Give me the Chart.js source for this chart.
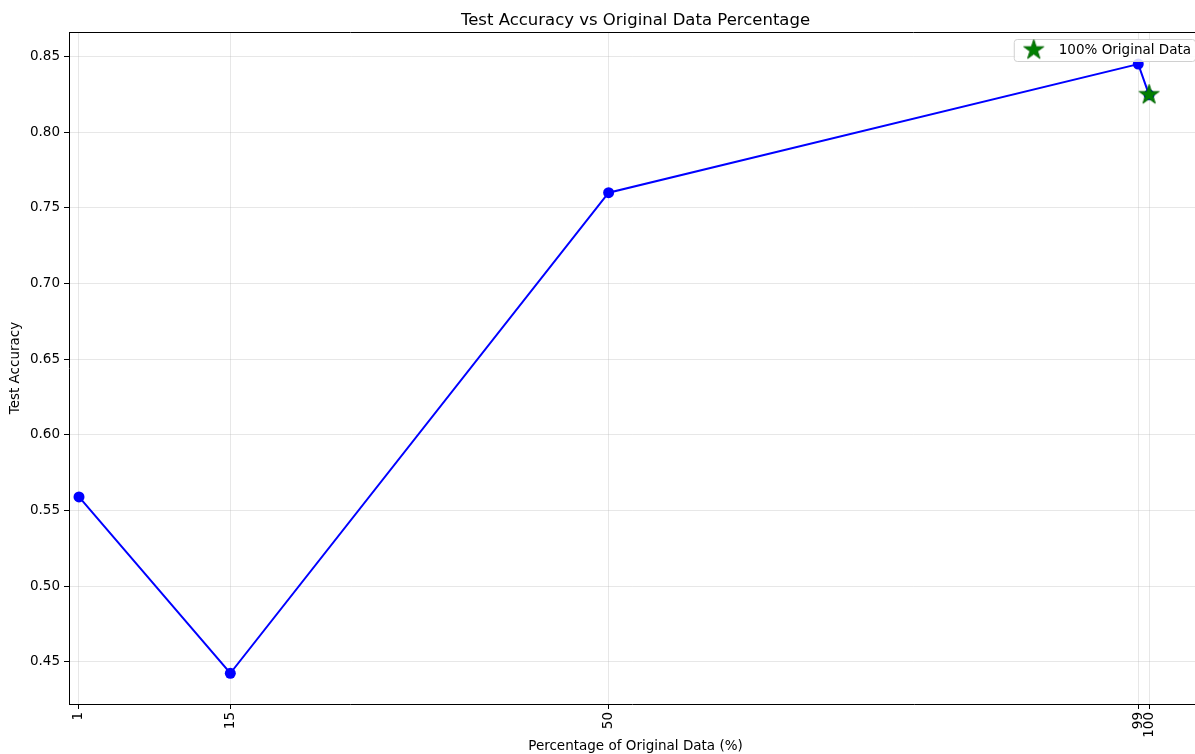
<!DOCTYPE html>
<html>
<head>
<meta charset="utf-8">
<script src="https://cdn.jsdelivr.net/npm/chart.js@4.4.1/dist/chart.umd.min.js"></script>
<style>
  html, body { margin: 0; padding: 0; background: #fff; overflow: hidden; }
  #c { display: block; }
</style>
</head>
<body>
<canvas id="c" width="1195" height="754" style="width:1195px;height:754px"></canvas>
<script>
// Percentage of original data used in training, and the resulting test accuracy
const percentages = [1, 15, 50, 99, 100];
const testAccuracy = [0.559, 0.4425, 0.760, 0.845, 0.8247];

// Highlighted reference run trained on the full original data
const fullDataPercent = [100];
const fullDataAccuracy = [0.8247];

const xTickValues = [1, 15, 50, 99, 100];
const yTickValues = [0.45, 0.50, 0.55, 0.60, 0.65, 0.70, 0.75, 0.80, 0.85];

const titleText = 'Test Accuracy vs Original Data Percentage';
const xAxisTitle = 'Percentage of Original Data (%)';
const yAxisTitle = 'Test Accuracy';
const legendLabel = '100% Original Data';

const FONT = '"DejaVu Sans", sans-serif';

// Filled five-pointed star used as the marker for the full-data run
function makeStar(outer, fill, stroke) {
  const size = Math.ceil(outer * 2 + 4);
  const cv = document.createElement('canvas');
  cv.width = size; cv.height = size;
  const g = cv.getContext('2d');
  const c = size / 2, inner = outer * 0.381966;
  g.beginPath();
  for (let i = 0; i < 10; i++) {
    const r = i % 2 === 0 ? outer : inner;
    const a = -Math.PI / 2 + i * Math.PI / 5;
    const px = c + r * Math.cos(a), py = c + r * Math.sin(a);
    if (i === 0) g.moveTo(px, py); else g.lineTo(px, py);
  }
  g.closePath();
  g.fillStyle = fill; g.fill();
  g.lineWidth = 1; g.strokeStyle = stroke; g.stroke();
  return cv;
}
const starMarker = makeStar(10.5, '#008000', '#006400');

// Top frame line, titles and an in-plot legend
const decorations = {
  id: 'decorations',
  afterDraw(chart) {
    const { ctx, chartArea: a } = chart;
    ctx.save();
    ctx.strokeStyle = '#000';
    ctx.lineWidth = 1;
    ctx.beginPath();
    ctx.moveTo(a.left, Math.round(a.top) + 0.5);
    ctx.lineTo(a.right, Math.round(a.top) + 0.5);
    ctx.stroke();

    // the axes extend a few pixels past the canvas; centre text on the full plot
    const plotRight = a.right + 7;
    ctx.fillStyle = '#000';
    ctx.textAlign = 'center';
    ctx.textBaseline = 'middle';
    ctx.font = '16.5px ' + FONT;
    ctx.fillText(titleText, (a.left + plotRight) / 2, 21);

    ctx.font = '13.5px ' + FONT;
    ctx.fillText(xAxisTitle, (a.left + plotRight) / 2, 746);

    ctx.save();
    ctx.translate(15, (a.top + a.bottom) / 2);
    ctx.rotate(-Math.PI / 2);
    ctx.fillText(yAxisTitle, 0, 0);
    ctx.restore();

    // legend box in the upper right of the plot
    ctx.font = '13.5px ' + FONT;
    const tw = ctx.measureText(legendLabel).width;
    const boxW = 45 + tw + 4;
    const boxH = 22;
    const bx = plotRight - 7 - boxW;
    const by = a.top + 7;
    ctx.beginPath();
    ctx.roundRect(bx + 0.5, by + 0.5, boxW, boxH, 3);
    ctx.fillStyle = 'rgba(255,255,255,0.85)';
    ctx.fill();
    ctx.strokeStyle = '#d0d0d0';
    ctx.stroke();
    ctx.drawImage(starMarker, bx + 20 - starMarker.width / 2, by + boxH / 2 - starMarker.height / 2);
    ctx.fillStyle = '#000';
    ctx.textAlign = 'left';
    ctx.fillText(legendLabel, bx + 45, by + boxH / 2 + 0.5);
    ctx.restore();
  }
};

new Chart(document.getElementById('c'), {
  type: 'line',
  data: {
    datasets: [
      {
        label: 'Test Accuracy',
        data: percentages.map((p, i) => ({ x: p, y: testAccuracy[i] })),
        borderColor: '#0000ff',
        backgroundColor: '#0000ff',
        borderWidth: 2,
        pointRadius: 5.5,
        pointHoverRadius: 5.5,
        pointBorderWidth: 0,
        tension: 0,
        fill: false,
        order: 2
      },
      {
        label: legendLabel,
        data: fullDataPercent.map((p, i) => ({ x: p, y: fullDataAccuracy[i] })),
        showLine: false,
        pointStyle: starMarker,
        pointRadius: 10,
        order: 1
      }
    ]
  },
  options: {
    responsive: false,
    animation: false,
    events: [],
    layout: { autoPadding: false, padding: { top: 32, right: 0, left: 0, bottom: 0 } },
    plugins: {
      legend: { display: false },
      title: { display: false },
      tooltip: { enabled: false }
    },
    scales: {
      x: {
        type: 'linear',
        min: 0.075,
        max: 104.25,
        afterFit(scale) {
          scale.height = 50;
          scale.paddingLeft = 0;
          scale.paddingRight = 0;
        },
        afterBuildTicks(scale) { scale.ticks = xTickValues.map(v => ({ value: v })); },
        border: { display: true, color: '#000', width: 1 },
        grid: {
          color: 'rgba(176,176,176,0.3)',
          tickColor: '#000',
          tickLength: 5,
          lineWidth: 1
        },
        ticks: {
          autoSkip: false,
          minRotation: 90,
          maxRotation: 90,
          padding: 3,
          color: '#000',
          font: { family: FONT, size: 13.5 },
          callback: v => String(v)
        }
      },
      y: {
        type: 'linear',
        min: 0.4222,
        max: 0.8662,
        afterFit(scale) {
          scale.width = 69;
          scale.paddingTop = 0;
          scale.paddingBottom = 0;
        },
        afterBuildTicks(scale) { scale.ticks = yTickValues.map(v => ({ value: v })); },
        border: { display: true, color: '#000', width: 1 },
        grid: {
          color: 'rgba(176,176,176,0.3)',
          tickColor: '#000',
          tickLength: 5,
          lineWidth: 1
        },
        ticks: {
          padding: 4,
          color: '#000',
          font: { family: FONT, size: 13.5 },
          callback: v => Number(v).toFixed(2)
        }
      }
    }
  },
  plugins: [decorations]
});
</script>
</body>
</html>
